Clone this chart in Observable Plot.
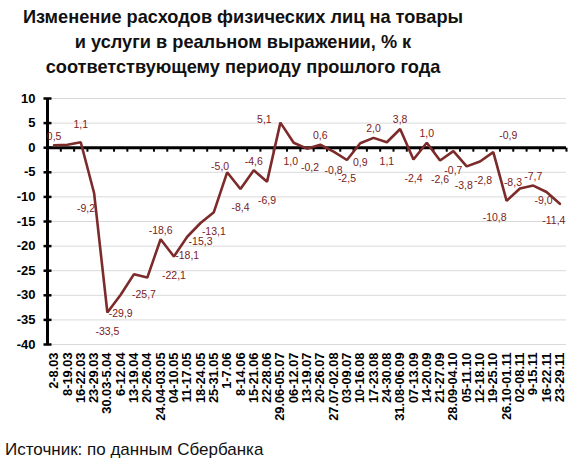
<!DOCTYPE html>
<html><head><meta charset="utf-8">
<script src="https://cdn.jsdelivr.net/npm/d3@7"></script>
<script src="https://cdn.jsdelivr.net/npm/@observablehq/plot@0.6"></script>
<style>
body{margin:0;background:#fff;font-family:"Liberation Sans",Arial,sans-serif;}
#title{width:486px;height:80px;padding-top:5px;text-align:center;font-weight:bold;font-size:18.2px;line-height:25px;color:#111;}
#caption{font-size:17px;padding-left:5px;margin-top:10px;line-height:20px;color:#111;}
</style></head>
<body>
<div id="title">Изменение расходов физических лиц на товары<br>и услуги в реальном выражении, % к<br>соответствующему периоду прошлого года</div>
<div id="chart"></div>
<div id="caption">Источник: по данным Сбербанка</div>
<script>
const categories = ["2-8.03","8-19.03","16-22.03","23-29.03","30.03-5.04","6-12.04","13-19.04","20-26.04","24.04-03.05","04-10.05","11-17.05","18-24.05","25-31.05","1-7.06","8-14.06","15-21.06","22-28.06","29.06-05.07","06-12.07","13-19.07","20-26.07","27.07-02.08","03-09.07","10-16.08","17-23.08","24-30.08","31.08-06.09","07-13.09","14-20.09","21-27.09","28.09-04.10","05-11.10","12-18.10","19-25.10","26.10-01.11","02-08.11","9-15.11","16-22.11","23-29.11"];
const values = [0.5,0.6,1.1,-9.2,-33.5,-29.9,-25.7,-26.4,-18.6,-22.1,-18.1,-15.3,-13.1,-5.0,-8.4,-4.6,-6.9,5.1,1.0,-0.2,0.6,-0.8,-2.5,0.9,2.0,1.1,3.8,-2.4,1.0,-2.6,-0.7,-3.8,-2.8,-0.9,-10.8,-8.3,-7.7,-9.0,-11.4];
const labelPlacement = ["t","","tt","bl","b","b","br","","t","b","b","b","b","tl","b","t","b","l","bw","be","t","b","b","b","t","b","t","b","t","b","b","bw","be","tr","bl2","tl","t","bs","bl3"];
const yTicks = [10,5,0,-5,-10,-15,-20,-25,-30,-35,-40];

const offsets = {t:[0,-9],tt:[0,-18],b:[0,19],bw:[-3,19],be:[3,19],bl:[-8,16],br:[10,20],tl:[-7,-6],l:[-16,-3],tr:[15,-17],bl2:[-12,17],bs:[-3,9],bl3:[-6,17]};
const data = values.map((v,i)=>({i, v, cat: categories[i], pos: labelPlacement[i]}));
const idx = d3.range(categories.length);
const edges = d3.range(categories.length + 1).map(i => i - 0.5);
const fmt = v => v.toFixed(1).replace(".", ",");

const hTick = {draw(ctx){ ctx.moveTo(-4,0); ctx.lineTo(4,0); }};
const vTick = {draw(ctx){ ctx.moveTo(0,0); ctx.lineTo(0,4); }};

const labelMarks = Object.entries(offsets).map(([code,[dx,dy]]) =>
  Plot.text(data.filter(d => d.pos === code), {x:"i", y:"v", text: d => fmt(d.v), dx, dy, fill:"#7a2222", fontSize:10.5, textAnchor:"middle"})
);

const chart = Plot.plot({
  width: 585,
  height: 345,
  marginTop: 13,
  marginBottom: 86,
  marginLeft: 47,
  marginRight: 19,
  style: {fontFamily:"'Liberation Sans', Arial, sans-serif", background:"white", color:"#000", overflow:"visible"},
  x: {type:"linear", domain:[-0.5, categories.length - 0.5]},
  y: {domain:[-40, 10]},
  marks: [
    Plot.ruleY(yTicks, {y: d=>d, x1:-0.5, x2: categories.length - 0.5, stroke:"#d9d9d9", strokeWidth:1}),
    Plot.axisY({ticks: yTicks, tickFormat: d => String(d), tickSize:0, tickPadding:12, fontWeight:"bold", fontSize:13, label:null}),
    Plot.axisX({ticks: idx, tickFormat: i => categories[i], tickRotate:-90, tickSize:0, tickPadding:8, fontWeight:"bold", fontSize:12.8, label:null}),
    Plot.ruleY([0], {x1:-0.5, x2: categories.length - 0.5, stroke:"#000", strokeWidth:3}),
    Plot.dot(edges, {x: d=>d, y: 0, symbol: vTick, stroke:"#000", strokeWidth:2, r:4}),
    Plot.ruleX([-0.5], {y1:-40, y2:10, stroke:"#000", strokeWidth:3}),
    Plot.dot(yTicks, {x: -0.5, y: d=>d, symbol: hTick, stroke:"#000", strokeWidth:2.5, r:4}),
    Plot.line(data, {x:"i", y:"v", stroke:"#7d2a2a", strokeWidth:2.6, strokeLinejoin:"miter"}),
    ...labelMarks
  ]
});
document.getElementById("chart").appendChild(chart);
</script>
</body></html>
